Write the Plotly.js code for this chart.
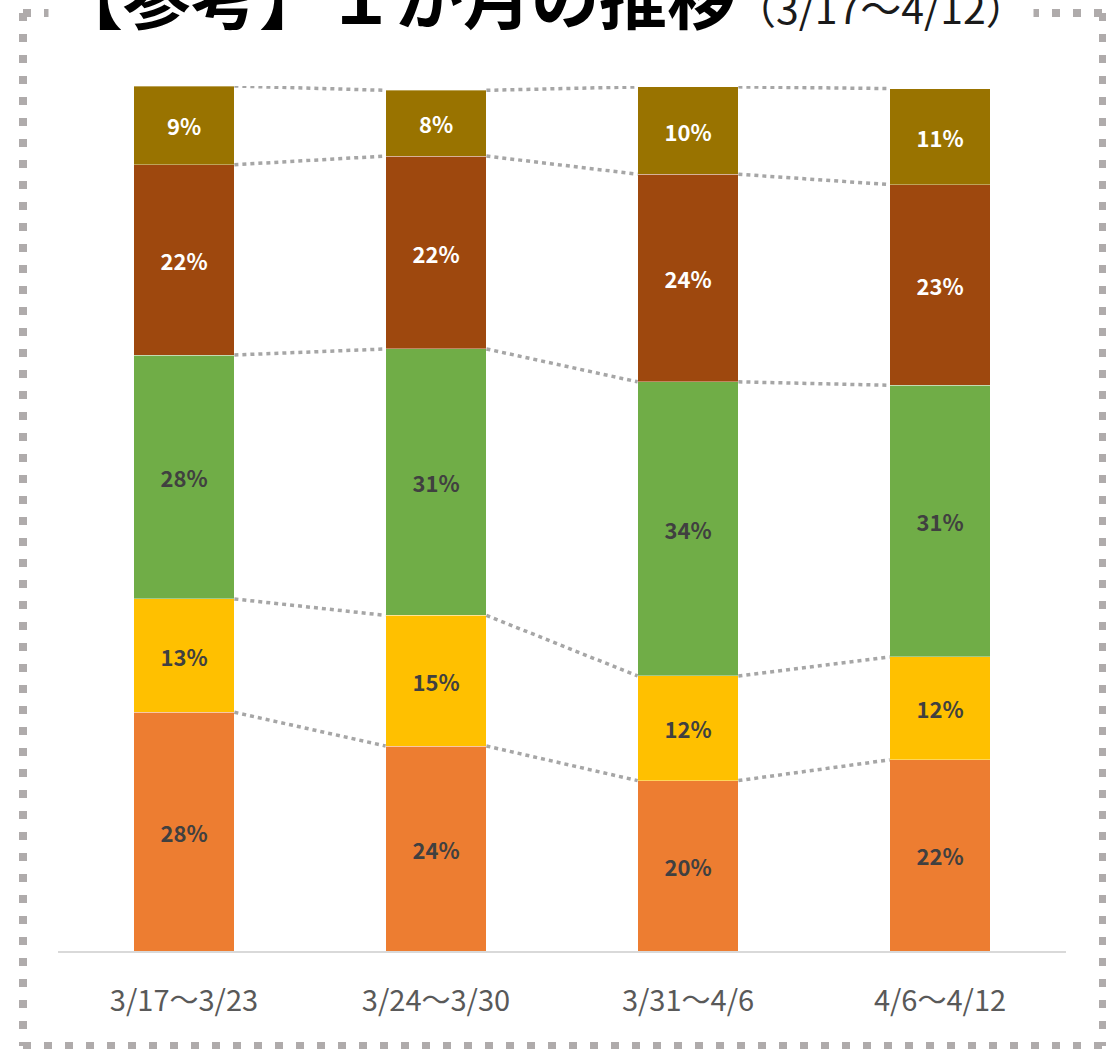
<!DOCTYPE html>
<html>
<head>
<meta charset="utf-8">
<script src="https://cdn.plot.ly/plotly-3.0.1.min.js"></script>
<style>
html,body{margin:0;padding:0;background:#fff;}
#chart{width:1106px;height:1049px;}
</style>
</head>
<body>
<div id="chart"></div>
<script>
// ---- data ----
const categories = ["3/17～3/23", "3/24～3/30", "3/31～4/6", "4/6～4/12"];
const seriesNames = ["s1", "s2", "s3", "s4", "s5"];
const s1 = [27.6, 23.7, 19.7, 22.1];   // orange
const s2 = [13.1, 15.1, 12.1, 11.9];   // yellow
const s3 = [28.2, 30.8, 34.0, 31.4];   // green
const s4 = [22.0, 22.3, 24.0, 23.2];   // brown
const s5 = [9.1, 7.6, 10.1, 11.1];     // gold
const labels1 = ["28%", "24%", "20%", "22%"];
const labels2 = ["13%", "15%", "12%", "12%"];
const labels3 = ["28%", "31%", "34%", "31%"];
const labels4 = ["22%", "22%", "24%", "23%"];
const labels5 = ["9%", "8%", "10%", "11%"];
const titleMain = "【参考】１か月の推移";
const titleSub = "（3/17～4/12）";

// ---- styles ----
const colors = ["#ED7D31", "#FFC000", "#70AD47", "#9E480E", "#997300"];
const textColors = ["#404040", "#404040", "#404040", "#FFFFFF", "#FFFFFF"];
const values = [s1, s2, s3, s4, s5];
const texts = [labels1, labels2, labels3, labels4, labels5];
const xs = categories.map((c, i) => i);
const halfW = 0.2;

const traces = [];
values.forEach((v, k) => {
  traces.push({
    type: "bar",
    name: seriesNames[k],
    x: xs,
    y: v,
    width: 0.4,
    text: texts[k],
    textposition: "inside",
    insidetextanchor: "middle",
    textangle: 0,
    constraintext: "none",
    texttemplate: "%{text}",
    insidetextfont: {family: "Noto Sans CJK JP, Noto Sans, sans-serif", size: 22, color: textColors[k], weight: "bold"},
    marker: {color: colors[k], line: {color: "rgba(255,255,255,0.35)", width: 1}},
    hoverinfo: "skip",
    showlegend: false
  });
});

// connector lines at each cumulative boundary
const cum = categories.map(() => 0);
values.forEach((v) => {
  v.forEach((val, i) => { cum[i] += val; });
  const lx = [], ly = [];
  for (let i = 0; i < categories.length - 1; i++) {
    lx.push(xs[i] + halfW, xs[i + 1] - halfW, null);
    ly.push(cum[i], cum[i + 1], null);
  }
  traces.push({
    type: "scatter", mode: "lines", x: lx, y: ly,
    line: {color: "#A6A6A6", width: 3.5, dash: "4px,4px"},
    hoverinfo: "skip", showlegend: false, cliponaxis: false
  });
});

// paper helpers for frame
const L = 58, R = 1066, T = 86, B = 951;
const px = (p) => (p - L) / (R - L);
const py = (p) => (B - p) / (B - T);

const frameLine = {color: "#AFABAB", width: 8, dash: "8px,13px"};
const shapes = [
  {type: "line", xref: "paper", yref: "paper", x0: px(23), x1: px(23), y0: py(13), y1: py(1046), line: frameLine},
  {type: "line", xref: "paper", yref: "paper", x0: px(1103), x1: px(1103), y0: py(13), y1: py(1046), line: frameLine},
  {type: "line", xref: "paper", yref: "paper", x0: px(23), x1: px(1103), y0: py(1046), y1: py(1046), line: frameLine},
  {type: "line", xref: "paper", yref: "paper", x0: px(23), x1: px(1103), y0: py(13), y1: py(13), line: frameLine}
];

const layout = {
  width: 1106, height: 1049,
  margin: {l: L, r: 1106 - R, t: T, b: 1049 - B, pad: 0},
  paper_bgcolor: "#FFFFFF", plot_bgcolor: "#FFFFFF",
  barmode: "stack",
  showlegend: false,
  xaxis: {
    range: [-0.5, 3.5], tickvals: xs, ticktext: categories,
    showgrid: false, zeroline: false, showline: true, linecolor: "#D9D9D9", linewidth: 2,
    ticks: "", ticklabelstandoff: 23,
    tickfont: {family: "Noto Sans CJK JP, sans-serif", size: 29, color: "#595959"},
    fixedrange: true
  },
  yaxis: {range: [0, 100], visible: false, showgrid: false, zeroline: false, fixedrange: true},
  shapes: shapes,
  annotations: [{
    xref: "paper", yref: "paper", x: px(48), y: py(-6), xanchor: "left", yanchor: "middle",
    text: "<b>" + titleMain + "</b><span style='font-size:41px;font-weight:normal;color:#1a1a1a'>" + titleSub + "</span>",
    showarrow: false, bgcolor: "#FFFFFF", borderpad: 6,
    font: {family: "Noto Sans CJK JP, sans-serif", size: 68, color: "#000000"}
  }]
};

Plotly.newPlot("chart", traces, layout, {displayModeBar: false, staticPlot: true});
</script>
</body>
</html>
